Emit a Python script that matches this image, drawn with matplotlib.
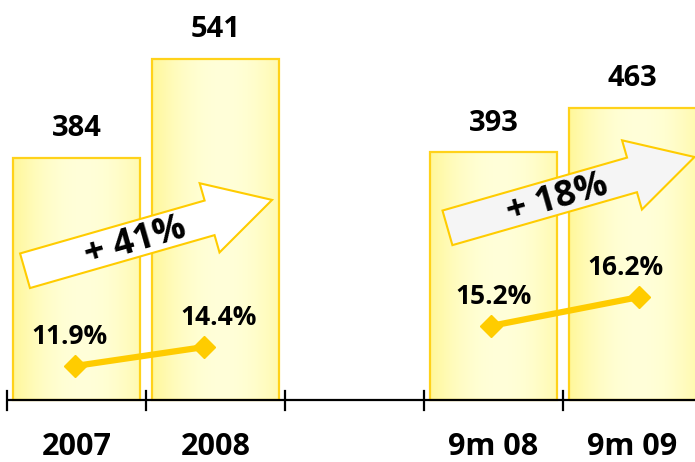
#!/usr/bin/env python3

import numpy as np
import matplotlib as mpl
import matplotlib.pyplot as plt
from matplotlib.patches import Polygon
from matplotlib.transforms import Affine2D, ScaledTranslation

mpl.rcParams['font.family'] = ['Open Sans', 'DejaVu Sans']
mpl.rcParams['font.weight'] = 'bold'

# slot positions: 2007, 2008, (gap), 9m 08, 9m 09
categories = ['2007', '2008', '9m 08', '9m 09']
positions = [0, 1, 3, 4]
values = [384, 541, 393, 463]
margins = [11.9, 14.4, 15.2, 16.2]
growth = ['+ 41%', '+ 18%']

gold = '#FFCC00'
edge = '#FFD21A'
bar_width = 0.915

fig = plt.figure(figsize=(6.95, 4.62), dpi=100)
ax = fig.add_axes([0, 0, 1, 1])
ax.set_xlim(-0.55, 4.45)
ax.set_ylim(-98, 634)
ax.axis('off')

# horizontal yellow gradient for the bars
t = np.linspace(0, 1, 200)
light = np.clip(1 - ((t - 0.55) / 0.55) ** 2, 0, 1)
c_edge = np.array([1.0, 0.97, 0.60])
c_mid = np.array([1.0, 1.0, 0.85])
grad = (c_edge[None, :] * (1 - light[:, None]) + c_mid[None, :] * light[:, None])[None, :, :]

for x, v in zip(positions, values):
    x0, x1 = x - bar_width / 2, x + bar_width / 2
    ax.imshow(grad, extent=(x0, x1, 0, v), aspect='auto', zorder=1, interpolation='bilinear')
    ax.text(x, v + 46, str(v), ha='center', va='center', fontsize=21, zorder=5)
ax.bar(positions, values, bar_width, facecolor='none', edgecolor=edge, linewidth=1.6, zorder=2)

# base axis with ticks between slots
ax.plot([-0.5, 4.45], [0, 0], color='black', lw=1.6, zorder=3, solid_capstyle='butt')
for b in np.arange(-0.5, 4.6, 1.0):
    ax.plot([b, b], [-15, 15], color='black', lw=1.6, zorder=3)
for x, c in zip(positions, categories):
    ax.text(x, -74, c, ha='center', va='center', fontsize=22)

# margin lines, one scale per pair
ax_l = ax.twinx()
ax_l.set_ylim(-0.73, 60.06)
ax_r = ax.twinx()
ax_r.set_ylim(10.51, 26.44)
for a in (ax_l, ax_r):
    a.axis('off')
    a.set_xlim(ax.get_xlim())

point_dx = [-0.01, -0.08, -0.02, 0.05]
label_dx = [-0.05, 0.02, 0.0, -0.05]
for a, idx in ((ax_l, [0, 1]), (ax_r, [2, 3])):
    xs = [positions[i] + point_dx[i] for i in idx]
    ys = [margins[i] for i in idx]
    a.plot(xs, ys, color=gold, lw=4.5, marker='D', markersize=11, zorder=6)
    for i in idx:
        a.annotate(f'{margins[i]:.1f}%', (positions[i] + label_dx[i], margins[i]),
                   xytext=(0, 21), textcoords='offset points',
                   ha='center', va='center', fontsize=19, zorder=7)


def growth_arrow(x, y, text, face, angle=16.0):
    # arrow shape in pixels, tail centre at the data point (x, y)
    L, w, hw, hl = 257, 36, 72, 65
    pts = [(0, -w / 2), (L - hl, -w / 2), (L - hl, -hw / 2), (L, 0),
           (L - hl, hw / 2), (L - hl, w / 2), (0, w / 2)]
    tr = Affine2D().rotate_deg(angle) + ScaledTranslation(x, y, ax.transData)
    poly = Polygon(pts, closed=True, transform=tr, facecolor=face,
                   edgecolor=gold, linewidth=1.5, zorder=8)
    ax.add_patch(poly)
    ax.text(114, -3, text, transform=tr, rotation=angle, rotation_mode='anchor',
            ha='center', va='center', fontsize=26, zorder=9)


growth_arrow(-0.37, 205, growth[0], 'white')
growth_arrow(2.669, 273, growth[1], '#F5F5F5')

fig.savefig('out.png', dpi=100)
